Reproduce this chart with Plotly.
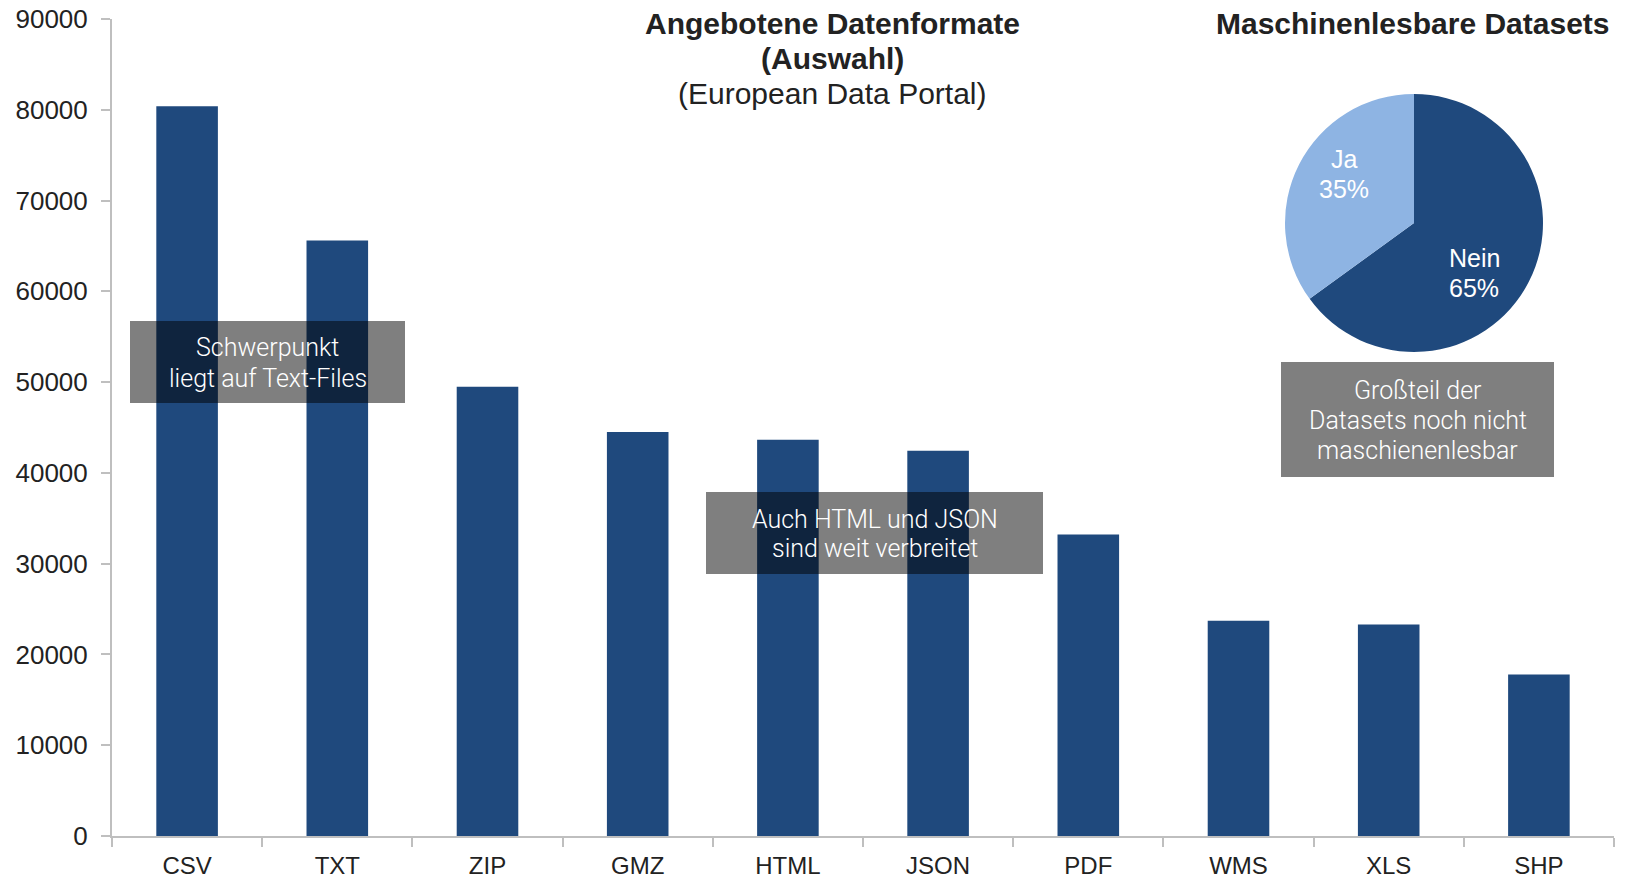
import plotly.graph_objects as go

# ---- data ----
formats = ["CSV", "TXT", "ZIP", "GMZ", "HTML", "JSON", "PDF", "WMS", "XLS", "SHP"]
counts = [80400, 65600, 49500, 44500, 43650, 42450, 33200, 23700, 23300, 17800]
y_ticks = [0, 10000, 20000, 30000, 40000, 50000, 60000, 70000, 80000, 90000]

pie_labels = ["Nein", "Ja"]
pie_values = [65, 35]

bar_title_lines = ["<b>Angebotene Datenformate</b>", "<b>(Auswahl)</b>", "(European Data Portal)"]
pie_title = "<b>Maschinenlesbare Datasets</b>"
notes = [
    ["Schwerpunkt", "liegt auf Text-Files"],
    ["Auch HTML und JSON", "sind weit verbreitet"],
    ["Großteil der", "Datasets noch nicht", "maschienenlesbar"],
]

DARK = "#1F497D"
LIGHT = "#8EB4E3"
AXIS = "#BFBFBF"
TXT = "#222222"
FONT = "Liberation Sans, Arial, sans-serif"

W, H = 1627, 879
ML, MR, MT, MB = 112, 13, 19, 43
PW, PH = W - ML - MR, H - MT - MB


def px(x):
    return (x - ML) / PW


def py(y):
    return (H - MB - y) / PH


fig = go.Figure()
fig.add_trace(go.Bar(x=formats, y=counts, marker=dict(color=DARK, line=dict(width=0)),
                     showlegend=False, hoverinfo="x+y"))

# pie
cx, cy, r = 1414, 223, 129
fig.add_trace(go.Pie(
    labels=pie_labels, values=pie_values, sort=False, direction="clockwise", rotation=0,
    marker=dict(colors=[DARK, LIGHT], line=dict(width=0)),
    textinfo="none",
    domain=dict(x=[px(cx - r), px(cx + r)], y=[py(cy + r), py(cy - r)]),
    showlegend=False,
))

shapes = []
annotations = []

# pie slice labels (label + percent from the data)
total = sum(pie_values)
label_pos = [(1474, 273), (1344, 174)]
for lab, val, (lx, ly) in zip(pie_labels, pie_values, label_pos):
    pct = f"{round(100 * val / total)}%"
    for k, t in enumerate([lab, pct]):
        annotations.append(dict(xref="paper", yref="paper", x=px(lx), y=py(ly - 15 + 30 * k),
                                text=t, showarrow=False, xanchor="center", yanchor="middle",
                                font=dict(family=FONT, size=25, color="white")))

boxes = [(130, 405, 321, 403), (706, 1043, 492, 574), (1281, 1554, 362, 477)]
for (x0, x1, y0, y1), lines in zip(boxes, notes):
    shapes.append(dict(type="rect", xref="paper", yref="paper",
                       x0=px(x0), x1=px(x1), y0=py(y1), y1=py(y0),
                       fillcolor="rgba(0,0,0,0.5)", line=dict(width=0), layer="above"))
    ccx, ccy = (x0 + x1) / 2, (y0 + y1) / 2
    n = len(lines)
    for i, t in enumerate(lines):
        yy = ccy + (i - (n - 1) / 2) * 30 + 1
        annotations.append(dict(xref="paper", yref="paper", x=px(ccx), y=py(yy),
                                text=t, showarrow=False, xanchor="center", yanchor="middle",
                                font=dict(family="Roboto, sans-serif", size=25, color="white",
                                          weight=300)))

for line, yy in zip(bar_title_lines, [23, 58, 93]):
    annotations.append(dict(xref="paper", yref="paper", x=px(832), y=py(yy), text=line,
                            showarrow=False, xanchor="center", yanchor="middle",
                            font=dict(family=FONT, size=30, color=TXT)))
annotations.append(dict(xref="paper", yref="paper", x=px(1413), y=py(23), text=pie_title,
                        showarrow=False, xanchor="center", yanchor="middle",
                        font=dict(family=FONT, size=30, color=TXT)))

fig.update_layout(
    width=W, height=H,
    margin=dict(l=ML, r=MR, t=MT, b=MB, autoexpand=False),
    paper_bgcolor="white", plot_bgcolor="white",
    bargap=0.59,
    shapes=shapes, annotations=annotations,
    font=dict(family=FONT, color=TXT),
    xaxis=dict(showgrid=False, showline=True, linecolor=AXIS, linewidth=2,
               ticks="outside", tickson="boundaries", ticklen=9, tickcolor=AXIS, tickwidth=2,
               tickfont=dict(family=FONT, size=24, color=TXT), ticklabelstandoff=7,
               range=[-0.5, 9.5], fixedrange=True),
    yaxis=dict(showgrid=False, showline=True, linecolor=AXIS, linewidth=2, zeroline=False,
               ticks="outside", ticklen=9, tickcolor=AXIS, tickwidth=2,
               tickvals=y_ticks, tickformat="d", range=[0, 90000],
               tickfont=dict(family=FONT, size=26, color=TXT), ticklabelstandoff=8,
               fixedrange=True),
)

fig.write_html("out.html", config={"displayModeBar": False},
               post_script="document.body.style.margin='0';document.body.style.overflow='hidden';")
